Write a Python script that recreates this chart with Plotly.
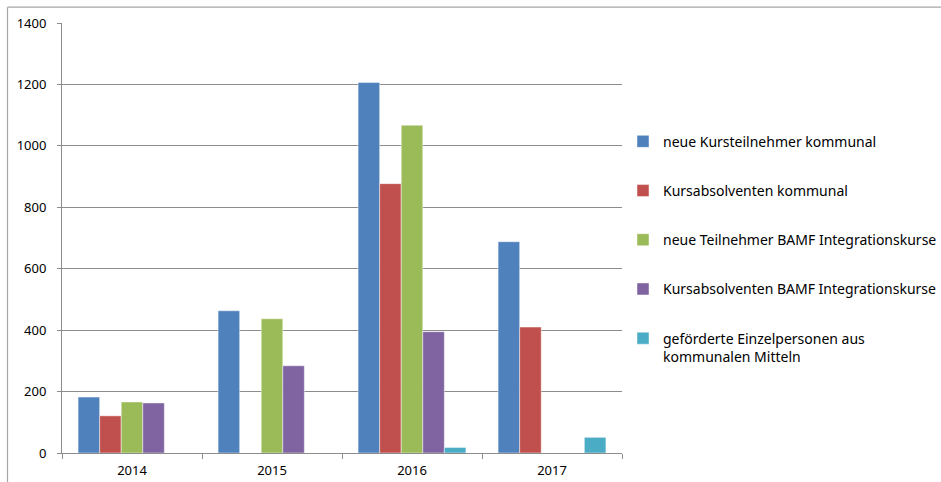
import plotly.graph_objects as go

years = ["2014", "2015", "2016", "2017"]
series_names = [
    "neue Kursteilnehmer kommunal",
    "Kursabsolventen kommunal",
    "neue Teilnehmer BAMF Integrationskurse",
    "Kursabsolventen BAMF Integrationskurse",
    "geförderte Einzelpersonen aus<br>kommunalen Mitteln",
]
neue_kursteilnehmer_kommunal = [182, 463, 1206, 688]
kursabsolventen_kommunal = [121, None, 877, 410]
neue_teilnehmer_bamf = [166, 437, 1067, None]
kursabsolventen_bamf = [163, 284, 395, None]
einzelpersonen = [None, None, 18, 51]
series_values = [
    neue_kursteilnehmer_kommunal,
    kursabsolventen_kommunal,
    neue_teilnehmer_bamf,
    kursabsolventen_bamf,
    einzelpersonen,
]
colors = ["#4F81BD", "#C0504D", "#9BBB59", "#8064A2", "#4BACC6"]
y_ticks = [0, 200, 400, 600, 800, 1000, 1200, 1400]

FONT = "Noto Sans"

fig = go.Figure()
for i, (name, vals, col) in enumerate(zip(series_names, series_values, colors)):
    fig.add_trace(go.Bar(
        x=years, y=vals, name=name, legendgroup=f"g{i}",
        marker=dict(color=col, line=dict(color="rgba(255,255,255,0.45)", width=1)),
    ))

W, H = 941, 482
L, R, T, B = 62, 622, 23.3, 453
pw, ph = R - L, B - T

def px_x(x):
    return (x - L) / pw

def px_y(y):
    return (B - y) / ph

fig.update_layout(
    width=W, height=H,
    margin=dict(l=L, r=W - R, t=T, b=H - B, pad=0, autoexpand=False),
    paper_bgcolor="white", plot_bgcolor="white",
    barmode="group", bargap=0.23, bargroupgap=0,
    font=dict(family=FONT, size=13, color="#000000"),
    showlegend=True,
    legend=dict(
        x=px_x(623), y=px_y(126), xanchor="left", yanchor="top",
        traceorder="grouped", tracegroupgap=28, valign="top",
        font=dict(family=FONT, size=14, color="#000000"),
        bgcolor="rgba(0,0,0,0)",
    ),
    xaxis=dict(
        type="category", showgrid=False, showline=True, linecolor="#8c8c8c", linewidth=1,
        ticks="outside", tickson="boundaries", ticklen=5, tickcolor="#8c8c8c",
        tickfont=dict(family=FONT, size=13, color="#000000"), ticklabelstandoff=5,
        automargin=False,
    ),
    yaxis=dict(
        range=[0, 1400], tickvals=y_ticks, showgrid=True, gridcolor="#8c8c8c", gridwidth=1,
        showline=True, linecolor="#8c8c8c", linewidth=1, zeroline=False,
        ticks="outside", ticklen=4, tickcolor="#8c8c8c",
        tickfont=dict(family=FONT, size=13, color="#000000"), ticklabelstandoff=8,
        automargin=False,
    ),
    shapes=[
        dict(type="line", xref="paper", yref="paper", x0=px_x(7.5), x1=px_x(945),
             y0=px_y(7.5), y1=px_y(7.5), line=dict(color="#a6a6a6", width=1.2)),
        dict(type="line", xref="paper", yref="paper", x0=px_x(7.5), x1=px_x(7.5),
             y0=px_y(7.5), y1=px_y(490), line=dict(color="#a6a6a6", width=1.2)),
    ],
)

fig.write_html(
    "out.html",
    config={"displayModeBar": False},
    post_script="document.body.style.margin='0';document.body.style.padding='0';",
)
